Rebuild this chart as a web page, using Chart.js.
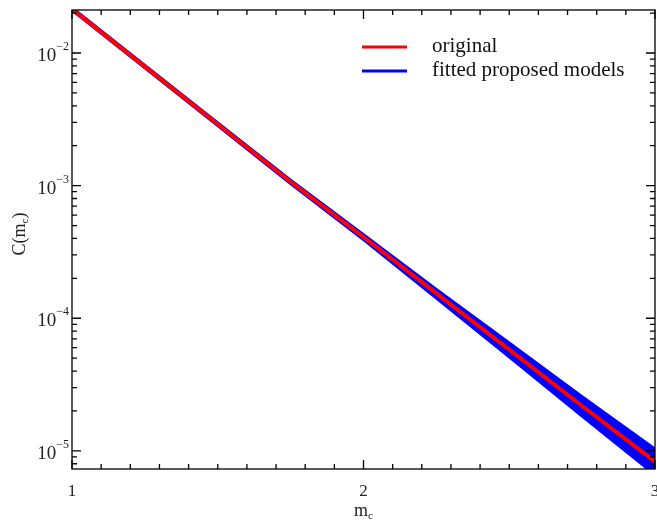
<!DOCTYPE html>
<html>
<head>
<meta charset="utf-8">
<script src="https://cdn.jsdelivr.net/npm/chart.js@4/dist/chart.umd.min.js"></script>
<style>
  html, body { margin: 0; padding: 0; background: #fff; }
  #wrap { width: 657px; height: 522px; }
</style>
</head>
<body>
<div id="wrap"><canvas id="chart" width="657" height="522"></canvas></div>
<script>
const mcValues = [1, 1.25, 1.5, 1.75, 2, 2.25, 2.5, 2.75, 3];
const original = [0.0215, 0.0079, 0.0029, 0.00107, 0.00041, 0.000154, 0.000058, 0.0000218, 0.0000083];
const fittedUpper = [0.0217, 0.00797, 0.002934, 0.001087, 0.0004215, 0.0001631, 0.0000643, 0.0000253, 0.0000102];
const fittedLower = [0.0213, 0.00783, 0.002867, 0.00105, 0.000397, 0.0001436, 0.0000517, 0.0000185, 0.0000067];
const yMajorTicks = [-2, -3, -4, -5];
const xMajorTicks = [1, 2, 3];

const FONT = '"Liberation Serif", "Times New Roman", serif';

function pts(ys) {
    return mcValues.map((x, i) => ({ x: x, y: ys[i] }));
}

// axes, ticks, labels and legend drawn by hand (inward ticks, superscripts)
const decorPlugin = {
    id: 'decor',
    afterDraw(chart) {
        const ctx = chart.ctx;
        const a = chart.chartArea;
        const xs = chart.scales.x;
        const ys = chart.scales.y;
        ctx.save();
        ctx.strokeStyle = '#000';
        ctx.lineWidth = 1.3;
        ctx.strokeRect(a.left, a.top, a.right - a.left, a.bottom - a.top);

        // x ticks (every 0.1, major at integers)
        for (let k = 10; k <= 30; k++) {
            const v = k / 10;
            const px = xs.getPixelForValue(v);
            const len = (k % 10 === 0) ? 9 : 5;
            ctx.beginPath();
            ctx.moveTo(px, a.bottom); ctx.lineTo(px, a.bottom - len);
            ctx.moveTo(px, a.top); ctx.lineTo(px, a.top + len);
            ctx.stroke();
        }

        // y ticks (log)
        for (let e = -6; e <= -1; e++) {
            for (let m = 1; m <= 9; m++) {
                const v = m * Math.pow(10, e);
                if (v < ys.min || v > ys.max) continue;
                const py = ys.getPixelForValue(v);
                const len = (m === 1) ? 9 : 5;
                ctx.beginPath();
                ctx.moveTo(a.left, py); ctx.lineTo(a.left + len, py);
                ctx.moveTo(a.right, py); ctx.lineTo(a.right - len, py);
                ctx.stroke();
            }
        }

        ctx.fillStyle = '#222';
        // x tick labels
        ctx.font = '17px ' + FONT;
        ctx.textAlign = 'center';
        ctx.textBaseline = 'alphabetic';
        xMajorTicks.forEach(v => {
            ctx.fillText(String(v), xs.getPixelForValue(v), 496);
        });

        // y tick labels 10^e
        yMajorTicks.forEach(e => {
            const py = ys.getPixelForValue(Math.pow(10, e));
            ctx.font = '12px ' + FONT;
            const sup = '\u2212' + Math.abs(e);
            const supW = ctx.measureText(sup).width;
            ctx.textAlign = 'right';
            ctx.fillText(sup, 69, py - 3);
            ctx.font = '19px ' + FONT;
            ctx.fillText('10', 69 - supW, py + 8);
        });

        // axis titles
        ctx.textAlign = 'left';
        ctx.font = '18px ' + FONT;
        const mW = ctx.measureText('m').width;
        ctx.font = '11px ' + FONT;
        const cW = ctx.measureText('c').width;
        const xStart = (a.left + a.right) / 2 - (mW + cW) / 2;
        ctx.font = '18px ' + FONT;
        ctx.fillText('m', xStart, 516);
        ctx.font = '11px ' + FONT;
        ctx.fillText('c', xStart + mW, 519);

        ctx.save();
        ctx.translate(25, 234);
        ctx.rotate(-Math.PI / 2);
        ctx.font = '18px ' + FONT;
        const w1 = ctx.measureText('C(m').width;
        const w3 = ctx.measureText(')').width;
        ctx.font = '11px ' + FONT;
        const w2 = ctx.measureText('c').width;
        let x0 = -(w1 + w2 + w3) / 2;
        ctx.font = '18px ' + FONT;
        ctx.fillText('C(m', x0, 0);
        ctx.font = '11px ' + FONT;
        ctx.fillText('c', x0 + w1, 3);
        ctx.font = '18px ' + FONT;
        ctx.fillText(')', x0 + w1 + w2, 0);
        ctx.restore();

        // legend
        const items = [
            { label: chart.data.datasets[0].label, color: chart.data.datasets[0].borderColor },
            { label: chart.data.datasets[1].label, color: chart.data.datasets[1].borderColor }
        ];
        ctx.font = '21px ' + FONT;
        ctx.textBaseline = 'middle';
        items.forEach((it, i) => {
            const y = 47 + i * 24;
            ctx.strokeStyle = it.color;
            ctx.lineWidth = 3;
            ctx.beginPath();
            ctx.moveTo(362, y); ctx.lineTo(407, y);
            ctx.stroke();
            ctx.fillStyle = '#111';
            ctx.fillText(it.label, 432, y - 1);
        });
        ctx.restore();
    }
};

new Chart(document.getElementById('chart'), {
    type: 'line',
    data: {
        datasets: [
            {
                label: 'original',
                data: pts(original),
                borderColor: '#ff0000',
                borderWidth: 4,
                pointRadius: 0,
                fill: false,
                clip: 0,
                order: 0
            },
            {
                label: 'fitted proposed models',
                data: pts(fittedUpper),
                borderColor: '#0000ff',
                borderWidth: 4,
                pointRadius: 0,
                fill: false,
                clip: 0,
                order: 1
            },
            {
                label: 'fitted lower',
                data: pts(fittedLower),
                borderColor: '#0000ff',
                backgroundColor: '#0000ff',
                borderWidth: 4,
                pointRadius: 0,
                fill: '-1',
                clip: 0,
                order: 2
            }
        ]
    },
    options: {
        responsive: false,
        animation: false,
        layout: { padding: { left: 72, right: 2, top: 10, bottom: 53 } },
        plugins: { legend: { display: false }, tooltip: { enabled: false } },
        scales: {
            x: {
                type: 'linear', min: 1, max: 3,
                grid: { display: false },
                border: { display: false },
                ticks: { display: false },
                afterFit(scale) { scale.height = 0; }
            },
            y: {
                type: 'logarithmic', min: 7.3e-6, max: 2.11e-2,
                grid: { display: false },
                border: { display: false },
                ticks: { display: false },
                afterFit(scale) { scale.width = 0; }
            }
        }
    },
    plugins: [decorPlugin]
});
</script>
</body>
</html>
